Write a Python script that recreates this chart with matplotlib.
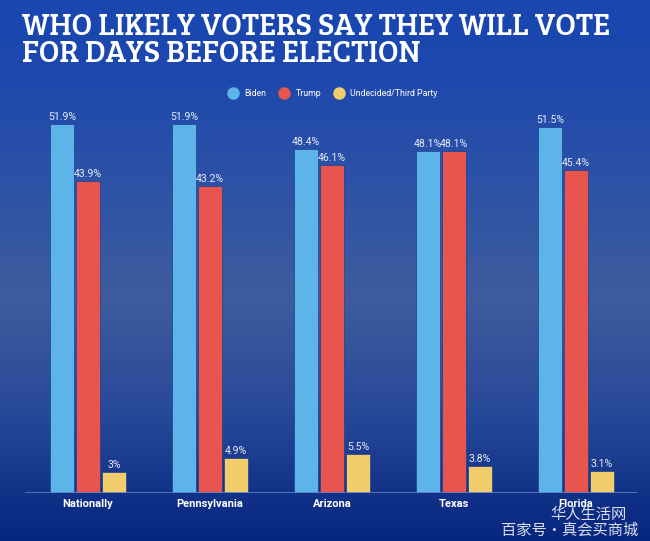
import matplotlib.pyplot as plt
import numpy as np
from matplotlib.colors import LinearSegmentedColormap
from matplotlib.lines import Line2D
from matplotlib import font_manager

# Poll data
regions = ['Nationally', 'Pennsylvania', 'Arizona', 'Texas', 'Florida']
biden = [51.9, 51.9, 48.4, 48.1, 51.5]
trump = [43.9, 43.2, 46.1, 48.1, 45.4]
other = [3, 4.9, 5.5, 3.8, 3.1]
biden_lbl = ['51.9%', '51.9%', '48.4%', '48.1%', '51.5%']
trump_lbl = ['43.9%', '43.2%', '46.1%', '48.1%', '45.4%']
other_lbl = ['3%', '4.9%', '5.5%', '3.8%', '3.1%']

c_biden = '#5db4e8'
c_trump = '#e8554e'
c_other = '#f2cd6c'

fig = plt.figure(figsize=(6.5, 5.41), dpi=100)

# Background gradient
bg = fig.add_axes([0, 0, 1, 1])
cmap = LinearSegmentedColormap.from_list('bg', [
    (0.0, '#1946b0'),
    (0.12, '#1c48ae'),
    (0.55, '#3e5c9e'),
    (0.75, '#2a4a9a'),
    (1.0, '#062680'),
])
grad = np.linspace(0, 1, 256).reshape(-1, 1)
bg.imshow(grad, aspect='auto', cmap=cmap, extent=[0, 1, 0, 1])
bg.set_axis_off()

# Bars
ax = fig.add_axes([25 / 650, 48 / 541, 612 / 650, 383 / 541])
ax.set_facecolor('none')
x = np.arange(len(regions))
w = 0.197
off = 0.213
b1 = ax.bar(x - off, biden, w, color=c_biden, edgecolor='#1d3f8f', linewidth=0.5)
b2 = ax.bar(x, trump, w, color=c_trump, edgecolor='#1d3f8f', linewidth=0.5)
b3 = ax.bar(x + off, other, w, color=c_other, edgecolor='#1d3f8f', linewidth=0.5)
for bars, lbls in [(b1, biden_lbl), (b2, trump_lbl), (b3, other_lbl)]:
    ax.bar_label(bars, labels=lbls, padding=1.5, color='#e6ecf7', fontsize=7.6, family='Roboto')

ax.set_xlim(-0.516, 4.5)
ax.set_ylim(0, 53.87)
ax.axhline(0, color='#5d7cc6', lw=1.2)
ax.set_xticks(x)
ax.set_xticklabels(regions, color='white', fontsize=8, fontweight='bold', family='Roboto')
ax.tick_params(axis='x', length=0, pad=4)
ax.set_yticks([])
for s in ax.spines.values():
    s.set_visible(False)

# Title: pick a heavy slab face whose width-fitted size is nearest the original's
line1 = 'WHO LIKELY VOTERS SAY THEY WILL VOTE'
names = {f.name for f in font_manager.fontManager.ttflist}
cands = ['Rokkitt', 'Roboto Slab', 'Patua One', 'Zilla Slab', 'Arvo', 'Bree Serif',
         'Alfa Slab One', 'Liberation Serif']
r = fig.canvas.get_renderer()
best = None
for fam in cands:
    if fam not in names:
        continue
    probe = fig.text(0, 0, line1, fontsize=24, fontweight='black', family=fam)
    fs = 24 * 588 / probe.get_window_extent(r).width
    probe.remove()
    if best is None or abs(fs - 31) < abs(best[1] - 31):
        best = (fam, fs)

fig.text(22 / 650, 1 - 13 / 541, line1 + '\nFOR DAYS BEFORE ELECTION',
         color='white', fontsize=best[1], fontweight='black', family=best[0],
         va='top', ha='left', linespacing=0.95)

# Legend
handles = [Line2D([], [], marker='o', ls='', markersize=8, color=c) for c in [c_biden, c_trump, c_other]]
fig.legend(handles, ['Biden', 'Trump', 'Undecided/Third Party'], loc='center',
           bbox_to_anchor=(0.509, 1 - 94 / 541), ncol=3, frameon=False,
           labelcolor='white', handletextpad=0.3, columnspacing=1.0, prop={'family': 'Roboto', 'size': 6.3})

# Watermark
fig.text(588 / 650, 1 - 515 / 541, '华人生活网', color='white', alpha=0.85, fontsize=11,
         family=['Noto Sans CJK SC', 'DejaVu Sans'], ha='center', va='center')
fig.text(638 / 650, 1 - 530 / 541, '百家号·真会买商城', color='white', alpha=0.85, fontsize=11,
         family=['Noto Sans CJK SC', 'DejaVu Sans'], ha='right', va='center')

plt.savefig('out.png', dpi=100)
